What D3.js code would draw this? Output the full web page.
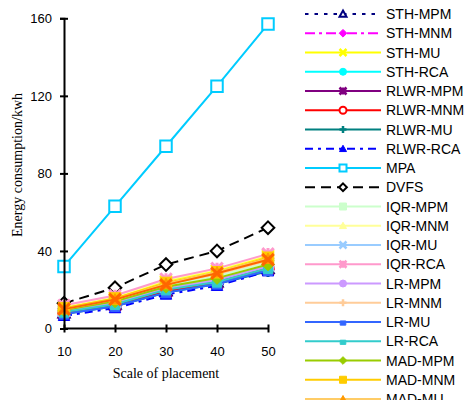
<!DOCTYPE html>
<html lang="en">
<head>
    <meta charset="UTF-8">
    <title>Energy consumption</title>
    <script src="https://d3js.org/d3.v7.min.js"></script>
    <style>
        body {margin: 0; background: #fff;}
        .axis text {font-family: "Liberation Sans", Arial, sans-serif; font-size: 13px; fill: #000;}
        .title {font-family: "Liberation Serif", "Times New Roman", serif; font-size: 14px;}
        .legend text {font-family: "Liberation Sans", Arial, sans-serif; font-size: 14px;}
    </style>
</head>
<body>
<script>
    const width  = 466;
    const height = 400;

    const scales = [10, 20, 30, 40, 50];
    const yTicks = [0, 40, 80, 120, 160];

    const names = ["STH-MPM", "STH-MNM", "STH-MU", "STH-RCA",
                   "RLWR-MPM", "RLWR-MNM", "RLWR-MU", "RLWR-RCA",
                   "MPA", "DVFS",
                   "IQR-MPM", "IQR-MNM", "IQR-MU", "IQR-RCA",
                   "LR-MPM", "LR-MNM", "LR-MU", "LR-RCA",
                   "MAD-MPM", "MAD-MNM", "MAD-MU", "MAD-RCA"];

    const sthMpm  = [8, 12.5, 19.5, 24, 31];
    const sthMnm  = [8, 12.5, 19.5, 24, 30.5];
    const sthMu   = [11, 16, 24.5, 30, 37.5];
    const sthRca  = [8.5, 13, 20, 24.5, 31.5];
    const rlwrMpm = [8, 12, 19, 23.5, 30.5];
    const rlwrMnm = [8, 12, 19, 24, 31];
    const rlwrMu  = [7.5, 11.5, 18.5, 23, 29.5];
    const rlwrRca = [6.5, 10.5, 17.5, 22, 29.5];
    const mpa     = [32, 63, 94, 125, 157];
    const dvfs    = [13, 21, 33, 40, 52];
    const iqrMpm  = [9.5, 14.5, 22, 27, 34];
    const iqrMnm  = [11.5, 16.5, 25, 30.5, 38];
    const iqrMu   = [9, 13.5, 21, 25.5, 32.5];
    const iqrRca  = [12, 17, 25.5, 31, 38.5];
    const lrMpm   = [9, 13.5, 20.5, 25, 32];
    const lrMnm   = [10, 15, 23, 28, 35];
    const lrMu    = [7.5, 11.5, 18.5, 23, 30];
    const lrRca   = [8.5, 12.5, 20, 24, 31];
    const madMpm  = [9.5, 14, 21.5, 26, 33];
    const madMnm  = [10.5, 15.5, 23.5, 29, 36.5];
    const madMu   = [10, 15, 23, 29, 36];
    const madRca  = [10, 15, 22.5, 28.5, 35.5];

    const values = [sthMpm, sthMnm, sthMu, sthRca, rlwrMpm, rlwrMnm, rlwrMu, rlwrRca,
                    mpa, dvfs, iqrMpm, iqrMnm, iqrMu, iqrRca, lrMpm, lrMnm, lrMu, lrRca,
                    madMpm, madMnm, madMu, madRca];

    // line colour, dash, marker type, filled?
    const styles = {
        "STH-MPM":  {c: "#000080", dash: "3.5,6", m: "tri", fill: false},
        "STH-MNM":  {c: "#FF00FF", dash: "10,4,3,4", m: "diamond", fill: true},
        "STH-MU":   {c: "#FFFF00", m: "x", fill: false},
        "STH-RCA":  {c: "#00FFFF", m: "circle", fill: true},
        "RLWR-MPM": {c: "#800080", m: "star", fill: false},
        "RLWR-MNM": {c: "#FF0000", m: "circle", fill: false},
        "RLWR-MU":  {c: "#008080", m: "plus", fill: false},
        "RLWR-RCA": {c: "#0000FF", dash: "8,5,3,5", m: "tri", fill: true},
        "MPA":      {c: "#00CCFF", m: "square", fill: false},
        "DVFS":     {c: "#000000", dash: "10,6", m: "diamond", fill: false},
        "IQR-MPM":  {c: "#CCFFCC", m: "square", fill: true},
        "IQR-MNM":  {c: "#FFFF99", m: "tri", fill: true},
        "IQR-MU":   {c: "#99CCFF", m: "x", fill: false},
        "IQR-RCA":  {c: "#FF99CC", m: "star", fill: false},
        "LR-MPM":   {c: "#CC99FF", m: "circle", fill: true},
        "LR-MNM":   {c: "#FFCC99", m: "plus", fill: false},
        "LR-MU":    {c: "#3366FF", m: "bar", fill: true},
        "LR-RCA":   {c: "#33CCCC", m: "bar", fill: true},
        "MAD-MPM":  {c: "#99CC00", m: "diamond", fill: true},
        "MAD-MNM":  {c: "#FFCC00", m: "square", fill: true},
        "MAD-MU":   {c: "#FF9900", lc: "#FFCC66", m: "tri", fill: true},
        "MAD-RCA":  {c: "#FF6600", m: "x", fill: false}
    };

    const series = names.map((n, i) => ({name: n, values: values[i], st: styles[n]}));

    const x = d3.scalePoint().domain(scales).range([64, 268]);
    const y = d3.scaleLinear().domain([0, 160]).range([328.5, 18.3]);

    function markerPath(type, s) {
        const h = s / 2;
        const p = d3.path();
        if (type === "square") { p.rect(-h, -h, s, s); }
        else if (type === "circle") { p.arc(0, 0, h, 0, 2 * Math.PI); }
        else if (type === "diamond") { p.moveTo(0, -h * 1.1); p.lineTo(h * 1.1, 0); p.lineTo(0, h * 1.1); p.lineTo(-h * 1.1, 0); p.closePath(); }
        else if (type === "tri") { p.moveTo(0, -h); p.lineTo(h, h * 0.8); p.lineTo(-h, h * 0.8); p.closePath(); }
        else if (type === "x") { p.moveTo(-h, -h); p.lineTo(h, h); p.moveTo(h, -h); p.lineTo(-h, h); }
        else if (type === "plus") { p.moveTo(-h, 0); p.lineTo(h, 0); p.moveTo(0, -h); p.lineTo(0, h); }
        else if (type === "star") { p.moveTo(-h, -h); p.lineTo(h, h); p.moveTo(h, -h); p.lineTo(-h, h); p.moveTo(-h, 0); p.lineTo(h, 0); p.moveTo(0, -h); p.lineTo(0, h); }
        else if (type === "bar") { p.rect(-h * 0.8, -h * 0.3, s * 0.8, s * 0.6); }
        return p.toString();
    }

    function drawMarker(g, st, s, thick) {
        const open = st.m === "x" || st.m === "plus" || st.m === "star";
        g.append("path")
            .attr("d", markerPath(st.m, s))
            .attr("fill", open ? "none" : (st.fill ? st.c : "#fff"))
            .attr("stroke", st.c)
            .attr("stroke-width", open ? thick : (st.fill ? 1 : 2));
    }

    const svg = d3.select("body").append("svg").attr("width", width).attr("height", height);

    const line = d3.line()
        .x((d, i) => x(scales[i]))
        .y(d => y(d));

    const plot = svg.append("g");
    series.forEach(s => {
        plot.append("path")
            .attr("d", line(s.values))
            .attr("fill", "none")
            .attr("stroke", s.st.lc || s.st.c)
            .attr("stroke-width", 2)
            .attr("stroke-dasharray", s.st.dash || null);
        s.values.forEach((v, i) => {
            const g = plot.append("g").attr("transform", "translate(" + [x(scales[i]), y(v)] + ")");
            drawMarker(g, s.st, 11.5, 3);
        });
    });

    // axes
    const yAxis = svg.append("g").attr("class", "axis")
        .attr("transform", "translate(64,0)")
        .call(d3.axisLeft(y).tickValues(yTicks).tickSize(4).tickPadding(8));
    yAxis.selectAll(".tick line").attr("x2", -4).attr("x1", 4).attr("stroke-width", 2);
    yAxis.select(".domain").attr("stroke-width", 2);

    const xAxis = svg.append("g").attr("class", "axis")
        .attr("transform", "translate(0,328.5)")
        .call(d3.axisBottom(x).tickSize(4).tickPadding(14));
    xAxis.selectAll(".tick line").attr("y1", -4).attr("y2", 4).attr("stroke-width", 2);
    xAxis.select(".domain").attr("stroke-width", 2).attr("d", "M64,0H268");

    svg.append("text").attr("class", "title")
        .attr("x", 166).attr("y", 378)
        .attr("text-anchor", "middle")
        .text("Scale of placement");

    svg.append("text").attr("class", "title")
        .attr("transform", "translate(22,165) rotate(-90)")
        .attr("text-anchor", "middle")
        .text("Energy consumption/kwh");

    // legend
    const legend = svg.append("g").attr("class", "legend");
    series.forEach((s, i) => {
        const g = legend.append("g").attr("transform", "translate(305," + (14 + i * 19.25) + ")");
        g.append("line")
            .attr("x1", 0).attr("x2", 76)
            .attr("stroke", s.st.lc || s.st.c)
            .attr("stroke-width", 2)
            .attr("stroke-dasharray", s.st.dash || null);
        const mg = g.append("g").attr("transform", "translate(38,0)");
        drawMarker(mg, s.st, 7, 2.5);
        g.append("text").attr("x", 81).attr("y", 5).text(s.name);
    });
</script>
</body>
</html>
